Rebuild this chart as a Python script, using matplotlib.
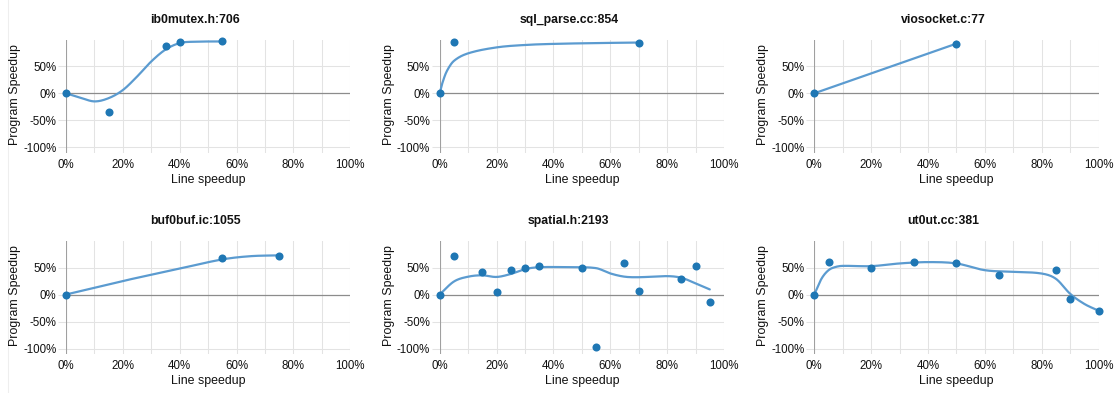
import numpy as np
import matplotlib
matplotlib.use("Agg")
import matplotlib.pyplot as plt
from matplotlib.lines import Line2D

W, H = 1119, 393
DOT = '#1f77b4'
TREND = '#5b9bd0'
GRID = '#e3e3e3'
AXIS = '#a0a0a0'
ZERO = '#8c8c8c'

plt.rcParams['font.family'] = ['Liberation Sans', 'DejaVu Sans']

titles = ["ib0mutex.h:706", "sql_parse.cc:854", "viosocket.c:77",
          "buf0buf.ic:1055", "spatial.h:2193", "ut0ut.cc:381"]

# measured points (line speedup %, program speedup %)
p1_x = [0, 15, 35, 40, 55]
p1_y = [0, -34, 88, 95, 96]
p2_x = [0, 5, 70]
p2_y = [0, 95, 94]
p3_x = [0, 50]
p3_y = [0, 92]
p4_x = [0, 55, 75]
p4_y = [0, 68, 72]
p5_x = [0, 5, 15, 20, 25, 30, 35, 50, 55, 65, 70, 85, 90, 95]
p5_y = [0, 71, 41, 5, 45, 49, 52, 49, -97, 58, 7, 29, 52, -14]
p6_x = [0, 5, 20, 35, 50, 65, 85, 90, 100]
p6_y = [0, 61, 50, 61, 59, 37, 46, -8, -30]

# fitted trend
t1_x = [0, 5, 10, 15, 20, 25, 30, 35, 40, 45, 55]
t1_y = [0, -8, -15, -9, 6, 31, 59, 81, 93, 95.5, 96]
t2_x = [0, 1, 2.5, 5, 10, 20, 30, 40, 55, 70]
t2_y = [0, 20, 41, 60, 74, 85, 89.5, 91.5, 93, 94]
t3_x = [0, 50]
t3_y = [0, 92]
t4_x = [0, 20, 40, 55, 65, 75]
t4_y = [0, 25, 48, 65, 71, 72.5]
t5_x = [0, 5, 10, 15, 20, 25, 30, 35, 45, 55, 60, 65, 70, 80, 85, 90, 95]
t5_y = [0, 24, 33, 35.5, 32.5, 38, 47, 50.5, 50.5, 48.8, 39, 33, 32, 34, 31,
        20.6, 9.4]
t6_x = [0, 2.5, 5, 7.5, 10, 20, 30, 40, 50, 60, 70, 80, 85, 90, 95, 100]
t6_y = [0, 29, 45, 51, 53, 52.5, 57.5, 60, 57.5, 45, 42, 38.8, 29, 1.3,
        -17.5, -30]

points = [(p1_x, p1_y), (p2_x, p2_y), (p3_x, p3_y),
          (p4_x, p4_y), (p5_x, p5_y), (p6_x, p6_y)]
trends = [(t1_x, t1_y), (t2_x, t2_y), (t3_x, t3_y),
          (t4_x, t4_y), (t5_x, t5_y), (t6_x, t6_y)]

x_ticks = [0, 20, 40, 60, 80, 100]
y_ticks = [-100, -50, 0, 50]


def smooth(x, y, n=300):
    """catmull-rom style curve through the trend values"""
    x = np.asarray(x, float)
    y = np.asarray(y, float)
    if len(x) < 3:
        return x, y
    h = np.diff(x)
    m = np.zeros_like(y)
    m[0] = (y[1] - y[0]) / h[0]
    m[-1] = (y[-1] - y[-2]) / h[-1]
    m[1:-1] = (y[2:] - y[:-2]) / (x[2:] - x[:-2])
    xs = np.linspace(x[0], x[-1], n)
    idx = np.clip(np.searchsorted(x, xs) - 1, 0, len(x) - 2)
    t = (xs - x[idx]) / h[idx]
    h00 = 2 * t**3 - 3 * t**2 + 1
    h10 = t**3 - 2 * t**2 + t
    h01 = -2 * t**3 + 3 * t**2
    h11 = t**3 - t**2
    ys = (h00 * y[idx] + h10 * h[idx] * m[idx] + h01 * y[idx + 1]
          + h11 * h[idx] * m[idx + 1])
    return xs, ys


fig = plt.figure(figsize=(W / 100, H / 100), dpi=100)
fig.add_artist(Line2D([8 / W, 8 / W], [0, 1], color='#eeeeee', lw=0.8))

col_left = [66, 439.7, 814.3]
row_zero = [93.3, 294.5]
ax_w = 284.3
scale = 0.54  # px per percent
y_top, y_bot = 99, -110

for i in range(6):
    r, c = divmod(i, 3)
    left = col_left[c]
    top = row_zero[r] - y_top * scale
    bottom = row_zero[r] - y_bot * scale
    ax = fig.add_axes([left / W, 1 - bottom / H, ax_w / W, (bottom - top) / H])
    ax.set_xlim(0, 100)
    ax.set_ylim(y_bot, y_top)
    for s in ax.spines.values():
        s.set_visible(False)

    for gx in range(10, 101, 10):
        ax.axvline(gx, color=GRID, lw=0.75, zorder=1)
    for gy in [-100, -50, 50]:
        ax.axhline(gy, color=GRID, lw=0.75, zorder=1)
    ax.axvline(0, color=AXIS, lw=0.8, zorder=2)
    ax.axhline(0, color=ZERO, lw=0.9, zorder=2)

    ax.set_xticks(x_ticks)
    ax.set_xticklabels([f"{v}%" for v in x_ticks])
    ax.set_yticks(y_ticks)
    ax.set_yticklabels([f"{v}%" for v in y_ticks])
    ax.tick_params(axis='x', length=0, pad=4.2, labelsize=8.3,
                   labelcolor='#111111')
    ax.tick_params(axis='y', length=5.5, width=0.75, color=GRID, pad=1.5,
                   labelsize=8.3, labelcolor='#111111')

    tx, ty = smooth(*trends[i])
    ax.plot(tx, ty, color=TREND, lw=1.6, solid_capstyle='round', zorder=3,
            clip_on=False)
    px, py = points[i]
    ax.plot(px, py, 'o', color=DOT, ms=5.8, mew=0, zorder=4, clip_on=False)

    cx = left + ax_w / 2
    fig.text((cx - 13) / W, 1 - (20 + r * 201) / H, titles[i],
             ha='center', va='center', fontsize=8.8, fontweight='bold',
             color='#111111')
    fig.text(cx / W, 1 - (180 + r * 201) / H, "Line speedup",
             ha='center', va='center', fontsize=8.9, color='#111111')
    fig.text((left - 51) / W, 1 - (row_zero[r] + 1) / H, "Program Speedup",
             ha='center', va='center', rotation=90, fontsize=8.9,
             color='#111111')

fig.savefig("out.png", dpi=100, facecolor='white')
